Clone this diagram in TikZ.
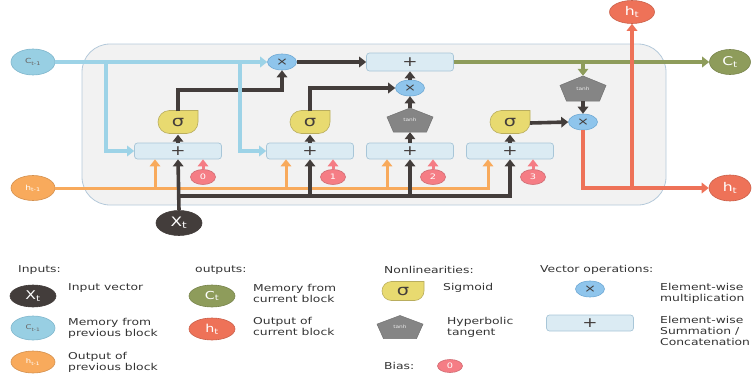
\documentclass[tikz,border=0pt]{standalone}
\usepackage{fontspec}
\setmainfont{DejaVu Sans}[FakeStretch=1.3]
\usetikzlibrary{arrows.meta,shapes.geometric}

\definecolor{cellfill}{HTML}{F2F2F2}
\definecolor{celledge}{HTML}{B4C9DA}
\definecolor{memblue}{HTML}{9DD3E7}
\definecolor{memfill}{HTML}{98CFE3}
\definecolor{memedge}{HTML}{7FB6CC}
\definecolor{hprevor}{HTML}{F8AA5C}
\definecolor{inkdark}{HTML}{433D3B}
\definecolor{olive}{HTML}{8E9C5B}
\definecolor{outred}{HTML}{EE7258}
\definecolor{biaspink}{HTML}{F57D85}
\definecolor{sigyellow}{HTML}{E8DA70}
\definecolor{sigedge}{HTML}{B9AD5E}
\definecolor{tanhgray}{HTML}{858585}
\definecolor{multblue}{HTML}{8FC5EC}
\definecolor{multedge}{HTML}{6FA9D4}
\definecolor{boxfill}{HTML}{DBEBF3}
\definecolor{boxedge}{HTML}{A8C6D8}
\definecolor{legtext}{HTML}{333333}

\newcommand\legfont{\fontsize{9.5}{11}\selectfont}
\newcommand\plusfont{\fontsize{14}{14}\selectfont}
\newcommand\multfont{\fontsize{11}{11}\selectfont}
\newcommand\biasfont{\fontsize{7.5}{7.5}\selectfont}
\newcommand\sigfont{\fontsize{15}{15}\selectfont}
\newcommand\tanhfont{\fontsize{4.5}{4.5}\selectfont}

% sigmoid gate: drop shape, round on the left and lower right,
% sharp in the upper right corner (y axis points down here, so
% angle 90 is straight down)
% #1 name, #2 cx, #3 cy, #4 half width, #5 half height
\newcommand\sigmagate[5]{%
  \filldraw[fill=sigyellow,draw=sigedge,line width=0.6pt]
    (#2+#4,#3-#5) -- (#2+#4,#3)
    arc[start angle=0,end angle=90,radius=#5]
    -- (#2-#4+#5,#3+#5)
    arc[start angle=90,end angle=180,radius=#5]
    -- (#2-#4,#3)
    arc[start angle=180,end angle=270,radius=#5]
    -- cycle;
  \node[inner sep=0pt,minimum width=2*#4pt,minimum height=2*#5pt,
        font=\sigfont,text=inkdark] (#1) at (#2,#3+1) {σ};}

% tanh gate: wide pentagon
\newcommand\tanhgate[5]{%
  \filldraw[fill=tanhgray,draw=tanhgray!85!black,line width=0.5pt]
    (#2,#3-#5) -- (#2+#4,#3-0.25*#5) -- (#2+0.72*#4,#3+#5)
    -- (#2-0.72*#4,#3+#5) -- (#2-#4,#3-0.25*#5) -- cycle;
  \node[inner sep=0pt,minimum width=2*#4pt,minimum height=2*#5pt,
        font=\tanhfont,text=white!85!gray] (#1) at (#2,#3) {tanh};}

\begin{document}
\begin{tikzpicture}[x=1pt,y=-1pt,
  wire/.style={line width=3.6pt},
  tipped/.style={-{Triangle[length=7pt,width=10.5pt]}},
  oval/.style={ellipse,inner sep=0pt,draw,line width=0.6pt},
  sumbox/.style={rectangle,rounded corners=3pt,fill=boxfill,draw=boxedge,
    line width=0.7pt,minimum width=87pt,minimum height=16pt,inner sep=0pt,
    font=\plusfont,text=inkdark},
  multnode/.style={oval,fill=multblue,draw=multedge,minimum width=29pt,
    minimum height=16pt,font=\multfont,text=inkdark},
  biasnode/.style={oval,fill=biaspink,draw=biaspink!85!black,minimum width=25pt,
    minimum height=15pt,text=white,font=\biasfont},
  legend/.style={anchor=west,align=left,text=legtext,font=\legfont,inner sep=0pt},
]
\useasboundingbox (0,0) rectangle (755,383);

% LSTM cell body
\node[rectangle,rounded corners=28pt,fill=cellfill,draw=celledge,line width=0.8pt,
      minimum width=584pt,minimum height=161pt,inner sep=0pt] (cell) at (374,124.5) {};

% inputs and outputs
\node[oval,fill=memfill,draw=memedge,minimum width=44pt,minimum height=26pt,
      text=inkdark!80,font=\fontsize{7}{7}\selectfont] (cprev) at (33,62) {C\textsubscript{t-1}};
\node[oval,fill=hprevor,draw=hprevor!85!black,minimum width=44pt,minimum height=25pt,
      text=white,font=\fontsize{7}{7}\selectfont] (hprev) at (33,188) {h\textsubscript{t-1}};
\node[oval,fill=inkdark,draw=inkdark,minimum width=46pt,minimum height=25pt,
      text=white,font=\fontsize{13}{13}\selectfont] (xt) at (179,223) {X\textsubscript{t}};
\node[oval,fill=olive,draw=olive!85!black,minimum width=41pt,minimum height=25pt,
      text=white,font=\fontsize{12}{12}\selectfont] (ct) at (730,62) {C\textsubscript{t}};
\node[oval,fill=outred,draw=outred!85!black,minimum width=42pt,minimum height=26pt,
      text=white,font=\fontsize{12}{12}\selectfont] (htr) at (730,188) {h\textsubscript{t}};
\node[oval,fill=outred,draw=outred!85!black,minimum width=45pt,minimum height=23pt,
      text=white,font=\fontsize{12}{12}\selectfont] (htt) at (632,12) {h\textsubscript{t}};

% summation / concatenation boxes
\node[sumbox] (box1) at (178,151) {+};
\node[sumbox] (box2) at (310,151) {+};
\node[sumbox] (box3) at (410,151) {+};
\node[sumbox] (box4) at (510,151) {+};
\node[sumbox,minimum height=18pt] (sumtop) at (410,62) {+};

% biases
\node[biasnode] (bias1) at (203,177) {0};
\node[biasnode] (bias2) at (333,177) {1};
\node[biasnode] (bias3) at (433,177) {2};
\node[biasnode] (bias4) at (533,177) {3};

% nonlinearities
\sigmagate{sig1}{178}{122}{20}{11.5}
\sigmagate{sig2}{310}{122}{20}{11.5}
\sigmagate{sig3}{510}{122}{20}{11.5}
\tanhgate{tanh1}{410}{120}{23}{12}
\tanhgate{tanh2}{583}{88.5}{23}{12.5}

% element-wise products
\node[multnode] (mult1) at (282,62) {×};
\node[multnode] (mult2) at (410,88) {×};
\node[multnode] (mult3) at (583,122) {×};

% previous output feeding every gate
\coordinate (oin1) at ([xshift=-23pt]box1.south);
\coordinate (oin2) at ([xshift=-24pt]box2.south);
\coordinate (oin3) at ([xshift=-23pt]box3.south);
\coordinate (oin4) at ([xshift=-22pt]box4.south);
\draw[line width=3pt,hprevor,tipped] (hprev.east) -| (oin4);
\foreach \k in {1,2,3}
  \draw[line width=3pt,hprevor,tipped] (oin\k |- hprev) -- (oin\k);

% input vector feeding every gate
\coordinate (xbus) at (178,196);
\draw[wire,inkdark,tipped] (xt.north) -- (box1.south);
\draw[wire,inkdark,tipped] (xbus) -| (box4.south);
\foreach \k in {2,3}
  \draw[wire,inkdark,tipped] (box\k.south |- xbus) -- (box\k.south);

% bias inputs
\foreach \k in {1,2,3,4}
  \draw[line width=3pt,biaspink,tipped] (bias\k.north) -- (bias\k.north |- box\k.south);

% gate activations
\draw[wire,inkdark,tipped] (box1.north) -- (sig1.south);
\draw[wire,inkdark,tipped] (box2.north) -- (sig2.south);
\draw[wire,inkdark,tipped] (box3.north) -- (tanh1.south);
\draw[wire,inkdark,tipped] (box4.north) -- (sig3.south);

% forget gate
\coordinate (fbend) at (178,90);
\draw[wire,inkdark,tipped] (sig1.north) -- (fbend) -| (mult1.south);
% input gate and candidate
\coordinate (ibend) at (310,88);
\draw[wire,inkdark,tipped] (sig2.north) -- (ibend) -- (mult2.west);
\draw[wire,inkdark,tipped] (tanh1.north) -- (mult2.south);
\draw[wire,inkdark,tipped] (mult2.north) -- (sumtop.south);
\draw[wire,inkdark,tipped] (mult1.east) -- (sumtop.west);

% previous memory
\coordinate (mtap1) at (106,62);
\coordinate (mtap2) at (240,62);
\draw[line width=3.2pt,memblue,tipped] (cprev.east) -- (mult1.west);
\draw[line width=3.2pt,memblue,tipped] (mtap1) |- (box1.west);
\draw[line width=3.2pt,memblue,tipped] (mtap2) |- (box2.west);

% new memory
\coordinate (ctap) at (583,62);
\draw[line width=3.2pt,olive,tipped] (sumtop.east) -- (ct.west);
\draw[line width=3.2pt,olive,tipped] (ctap) -- (tanh2.north);

% output gate
\draw[wire,inkdark,tipped] (tanh2.south) -- (mult3.north);
\draw[wire,inkdark,tipped] (sig3.east) -- (mult3.west);
\coordinate (htap) at (632,188);
\draw[line width=4pt,outred,tipped] (mult3.south) |- (htr.west);
\draw[line width=4pt,outred,tipped] (htap) -- (htt.south);

% ---------------- legend ----------------
\node[legend] (hin) at (18,270) {Inputs:};
\node[legend] (hout) at (195,270) {outputs:};
\node[legend] (hnon) at (384,270) {Nonlinearities:};
\node[legend] (hvec) at (540,270) {Vector operations:};

\node[oval,fill=inkdark,draw=inkdark,minimum width=46pt,minimum height=22pt,
      text=white,font=\fontsize{12}{12}\selectfont] (lxt) at (33,296) {X\textsubscript{t}};
\node[legend] (lxtt) at (68,288) {Input vector};
\node[oval,fill=memfill,draw=memedge,minimum width=44pt,minimum height=24pt,
      text=inkdark!80,font=\fontsize{6.5}{6.5}\selectfont] (lcp) at (33,328) {C\textsubscript{t-1}};
\node[legend] (lcpt) at (68,328) {Memory from\\previous block};
\node[oval,fill=hprevor,draw=hprevor!85!black,minimum width=44pt,minimum height=22pt,
      text=white,font=\fontsize{6.5}{6.5}\selectfont] (lhp) at (33,362) {h\textsubscript{t-1}};
\node[legend] (lhpt) at (68,362) {Output of\\previous block};

\node[oval,fill=olive,draw=olive!85!black,minimum width=46pt,minimum height=22pt,
      text=white,font=\fontsize{11}{11}\selectfont] (lct) at (212,296) {C\textsubscript{t}};
\node[legend] (lctt) at (253,293) {Memory from\\current block};
\node[oval,fill=outred,draw=outred!85!black,minimum width=46pt,minimum height=22pt,
      text=white,font=\fontsize{11}{11}\selectfont] (lht) at (212,329) {h\textsubscript{t}};
\node[legend] (lhtt) at (253,326) {Output of\\current block};

\sigmagate{lsig}{403}{291}{21}{9.5}
\node[legend] (lsigt) at (443,288) {Sigmoid};
\tanhgate{ltanh}{400}{327}{23}{11.5}
\node[legend] (ltanht) at (447,327) {Hyperbolic\\tangent};
\node[legend] (lbias) at (384,366) {Bias:};
\node[biasnode,minimum height=13pt] (lbiasn) at (450,366) {0};

\node[multnode] (lmult) at (590,289) {×};
\node[legend] (lmultt) at (660,293) {Element-wise\\multiplication};
\node[sumbox] (lsum) at (590,323) {+};
\node[legend] (lsumt) at (660,331) {Element-wise\\Summation /\\Concatenation};
\end{tikzpicture}
\end{document}
